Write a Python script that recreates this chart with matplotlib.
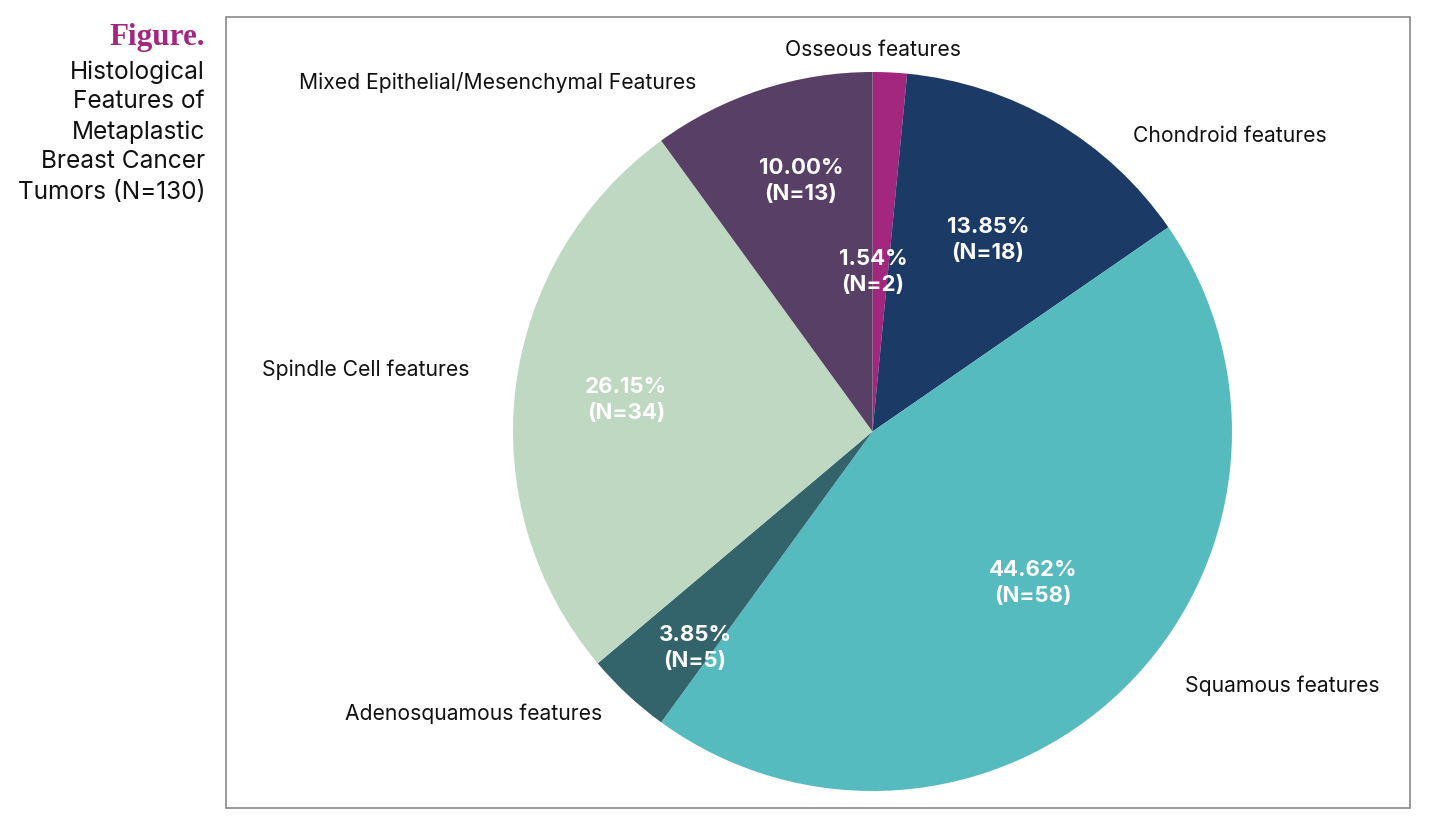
import matplotlib.pyplot as plt
from matplotlib.patches import Rectangle

# Histological features of metaplastic breast cancer, N=130
categories = ['Osseous features', 'Chondroid features', 'Squamous features',
              'Adenosquamous features', 'Spindle Cell features',
              'Mixed Epithelial/Mesenchymal Features']
counts = [2, 18, 58, 5, 34, 13]
percents = [1.54, 13.85, 44.62, 3.85, 26.15, 10.00]
colors = ['#A3277F', '#1B3A66', '#55BBBE', '#33646B', '#BED8C1', '#573F66']

# label placement (fraction of pie radius)
outer_pos = [(0.0, 1.061), (0.994, 0.822), (1.139, -0.708),
             (-1.111, -0.786), (-1.409, 0.171), (-1.042, 0.972)]
inner_pos = [(0.001, 0.443), (0.321, 0.533), (0.446, -0.421),
             (-0.494, -0.602), (-0.686, 0.088), (-0.199, 0.697)]

FONT = ['Inter', 'DejaVu Sans']
W, H = 1442, 824
cx, cy, r = 872.5, 431.5, 359.5

fig = plt.figure(figsize=(W / 100, H / 100), dpi=100)

# frame around the chart
fig.patches.append(Rectangle((226 / W, 1 - 808 / H), (1410 - 226) / W,
                             (808 - 17) / H, transform=fig.transFigure,
                             fill=False, edgecolor='#888888', lw=1.2))

ax = fig.add_axes([(cx - r) / W, (H - cy - r) / H, 2 * r / W, 2 * r / H])
ax.pie(counts, colors=colors, startangle=90, counterclock=False,
       radius=1, wedgeprops=dict(linewidth=0))
ax.set_xlim(-1, 1)
ax.set_ylim(-1, 1)
ax.set_aspect('equal')
ax.axis('off')

for name, (x, y) in zip(categories, outer_pos):
    ax.text(x, y, name, ha='center', va='center', fontsize=15.2,
            family=FONT, color='#111111', clip_on=False)

for p, n, (x, y) in zip(percents, counts, inner_pos):
    ax.text(x, y, f'{p:.2f}%\n(N={n})', ha='center', va='center',
            fontsize=16, fontweight='bold', family=FONT, color='white',
            linespacing=1.4)

# title block on the left
fig.text(205 / W, 1 - 38 / H, 'Figure.', ha='right', va='center',
         fontsize=22.4, fontweight='bold', family=['Liberation Serif', 'DejaVu Serif'],
         color='#A3277F')
title_lines = ['Histological', 'Features of', 'Metaplastic',
               'Breast Cancer', 'Tumors (N=130)']
for i, line in enumerate(title_lines):
    fig.text(205 / W, 1 - (72 + 30 * i) / H, line, ha='right', va='center',
             fontsize=17.6, family=FONT, color='#111111')

fig.savefig('out.png', dpi=100)
